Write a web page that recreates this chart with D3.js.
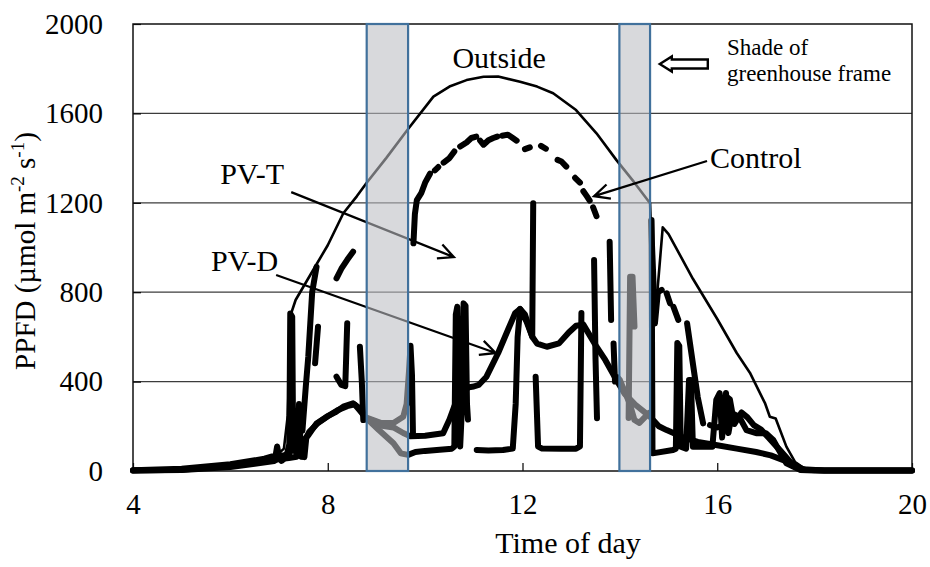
<!DOCTYPE html>
<html>
<head>
<meta charset="utf-8">
<title>PPFD – time of day</title>
<script src="https://cdn.jsdelivr.net/npm/d3@7"></script>
<style>
  html, body { margin: 0; padding: 0; background: #fff; }
  svg { display: block; }
  svg text { font-family: "Liberation Serif", "Times New Roman", Times, "DejaVu Serif", serif; }
</style>
</head>
<body>
<svg id="chart" width="930" height="567"></svg>
<script>
"use strict";

// ── Data ─────────────────────────────────────────────────────────────────────
// [time of day (h), PPFD (µmol m-2 s-1)], null = gap in the record
const xTicks = [4, 8, 12, 16, 20];
const yTicks = [0, 400, 800, 1200, 1600, 2000];

// periods shaded by the greenhouse frame
const frameShade = [[8.8, 9.65], [13.99, 14.62]];

const outside = [
  [4, 3], [5, 8], [5.8, 20], [6.5, 40], [6.9, 60], [7.1, 100], [7.18, 250], [7.24, 700],
  [7.34, 765], [7.74, 914], [8.0, 1010], [8.32, 1153], [8.6, 1230], [8.8, 1290], [9.2, 1400],
  [9.65, 1530], [10.17, 1675], [10.5, 1720], [10.85, 1749], [11.2, 1764], [11.5, 1765],
  [11.95, 1742], [12.3, 1720], [12.63, 1690], [13.1, 1615], [13.52, 1511], [13.93, 1391],
  [14.3, 1290], [14.62, 1198], [14.68, 850], [14.72, 680], [14.8, 880], [14.88, 1090],
  [15.0, 1060], [15.5, 860], [16.0, 680], [16.4, 528], [16.67, 440], [16.98, 304], [17.08, 243],
  [17.2, 235], [17.42, 109], [17.6, 40], [17.8, 10], [18.2, 3], [20, 2]
];

const control = [
  [4, 3], [5, 10], [6, 30], [6.7, 55], [6.93, 70], [6.96, 110], [7.0, 65], [7.2, 75], [7.3, 110],
  [7.4, 160], [7.44, 290], [7.48, 180], [7.55, 380], [7.6, 511], [7.68, 800], [7.77, 914], null,
  [7.74, 482], [7.8, 645], null,
  [8.18, 422], [8.28, 385], [8.36, 380], [8.38, 520], [8.4, 661], null,
  [8.18, 862], [8.28, 905], [8.4, 945], [8.52, 981], null,
  [8.66, 556], [8.7, 400], [8.73, 228], [8.85, 235], [9.1, 215], [9.35, 215], [9.55, 243],
  [9.62, 300], [9.67, 450], [9.7, 560], [9.73, 430], [9.75, 170], null,
  [9.76, 1019], [9.79, 1150], [9.83, 1212], [9.92, 1243], [10.0, 1290], [10.1, 1330], null,
  [10.2, 1345], [10.27, 1360], null,
  [10.38, 1380], [10.5, 1400], [10.6, 1430], null,
  [10.72, 1452], [10.85, 1470], [10.95, 1490], [11.05, 1496], null,
  [11.13, 1478], [11.2, 1460], [11.3, 1480], [11.4, 1490], [11.48, 1496], null,
  [11.58, 1500], [11.7, 1505], [11.8, 1490], [11.88, 1478], null,
  [12.05, 1440], [12.15, 1448], null,
  [12.38, 1455], [12.48, 1442], null,
  [12.72, 1392], [12.8, 1385], [12.9, 1362], null,
  [13.08, 1312], [13.18, 1290], null,
  [13.25, 1252], [13.32, 1230], [13.38, 1210], null,
  [13.45, 1180], [13.52, 1140], null,
  [13.47, 944], [13.5, 500], [13.53, 236], null,
  [13.79, 1026], [13.82, 676], null,
  [13.87, 571], [13.9, 400], [13.95, 420], [14.0, 407], [14.2, 303], [14.3, 228], [14.4, 215],
  [14.6, 260], null,
  [14.64, 1120], [14.68, 900], [14.72, 660], [14.78, 800], [14.86, 810], null,
  [14.96, 795], [15.03, 750], null,
  [15.1, 735], [15.2, 676], null,
  [15.38, 661], [15.5, 480], [15.6, 330], [15.71, 213], null,
  [15.85, 205], [16.0, 195], [16.15, 205], [16.2, 330], [16.26, 320], [16.35, 210], [16.5, 262],
  [16.62, 240], [16.75, 205], [16.9, 185], [17.05, 150], [17.3, 90], [17.5, 40], [17.75, 8],
  [18.2, 2], [20, 2]
];

const pvT = [
  [4, 2], [5, 5], [6, 18], [6.5, 32], [6.9, 45], [7.0, 60], [7.05, 45], [7.15, 65], [7.21, 120],
  [7.23, 705], [7.27, 690], [7.29, 94], [7.38, 80], [7.41, 300], [7.45, 64], [7.52, 62],
  [7.56, 150], [7.62, 175], [7.8, 215], [8.0, 245], [8.2, 272], [8.4, 290], [8.55, 298],
  [8.66, 270], [8.76, 243], [9.05, 183], [9.35, 124], [9.5, 79], [9.65, 72], [9.8, 85],
  [10.0, 90], [10.3, 95], [10.55, 100], [10.6, 110], [10.63, 700], [10.66, 735], [10.69, 200],
  [10.72, 110], [10.76, 300], [10.79, 750], [10.83, 740], [10.86, 300], [10.88, 230], null,
  [11.06, 94], [11.3, 92], [11.6, 94], [11.8, 100], [11.86, 300], [11.9, 600], [11.95, 725],
  [12.08, 670], [12.2, 601], [12.22, 1198], null,
  [12.27, 422], [12.32, 109], [12.4, 101], [12.8, 100], [13.1, 100], [13.18, 110], [13.21, 707], null,
  [14.18, 237], [14.21, 869], [14.26, 869], [14.3, 646], null,
  [14.65, 1123], [14.67, 79], [15.09, 94], [15.15, 100], [15.18, 573], [15.22, 560], [15.25, 109],
  [15.36, 100], [15.42, 407], [15.46, 407], [15.5, 109], [15.9, 109], [15.98, 318], [16.05, 348],
  [16.1, 150], [16.18, 349], [16.23, 170], [16.3, 258], [16.45, 243], [16.6, 183], [16.8, 169],
  [17.0, 169], [17.15, 139], [17.42, 34], [17.7, 5], [18.0, 2], [20, 2]
];

const pvD = [
  [4, 2], [5, 6], [5.5, 14], [6, 25], [6.5, 38], [6.9, 50], [7.2, 58], [7.36, 64], [7.45, 100],
  [7.52, 140], [7.6, 160], [7.77, 213], [7.98, 243], [8.15, 262], [8.32, 288], [8.52, 303],
  [8.66, 280], [8.76, 243], [9.05, 205], [9.35, 195], [9.55, 170], [9.7, 155], [10.0, 158],
  [10.37, 169], [10.5, 230], [10.6, 290], [10.75, 350], [10.9, 375], [11.0, 378], [11.1, 385],
  [11.26, 422], [11.5, 528], [11.7, 631], [11.85, 707], [11.95, 725], [12.05, 700], [12.2, 601],
  [12.3, 570], [12.5, 556], [12.75, 571], [12.95, 620], [13.1, 650], [13.25, 655], [13.4, 600],
  [13.52, 556], [13.7, 497], [13.93, 407], [14.1, 345], [14.3, 300], [14.62, 243], [14.8, 200],
  [14.96, 183], [15.1, 170], [15.3, 150], [15.6, 130], [16.0, 115], [16.4, 100], [16.8, 85],
  [17.1, 70], [17.4, 45], [17.6, 20], [17.8, 6], [18.2, 2], [20, 2]
];

// ── Setup ────────────────────────────────────────────────────────────────────
const svg = d3.select("#chart");

const x = d3.scaleLinear().domain([4, 20]).range([133, 912]);
const y = d3.scaleLinear().domain([0, 2000]).range([471, 24]);

const line = d3.line()
  .defined(d => d !== null)
  .x(d => x(d[0]))
  .y(d => y(d[1]));

// ── Grid & axes ──────────────────────────────────────────────────────────────
svg.append("g").attr("class", "grid")
  .selectAll("line")
  .data(yTicks.filter(v => v > 0 && v < 2000))
  .join("line")
  .attr("x1", x(4)).attr("x2", x(20))
  .attr("y1", d => y(d)).attr("y2", d => y(d))
  .attr("stroke", "#3c3c3c")
  .attr("stroke-width", 1.3);

const yAxis = svg.append("g")
  .attr("transform", `translate(${x(4)},0)`)
  .call(d3.axisLeft(y).tickValues(yTicks).tickFormat(d3.format("d"))
    .tickSize(-8).tickPadding(30));

const xAxis = svg.append("g")
  .attr("transform", `translate(0,${y(0)})`)
  .call(d3.axisBottom(x).tickValues(xTicks).tickFormat(d3.format("d"))
    .tickSize(-8).tickPadding(22));

[yAxis, xAxis].forEach(a => {
  a.attr("font-family", null).attr("font-size", 29);
  a.select(".domain").remove();
  a.selectAll(".tick line").attr("stroke", "#000").attr("stroke-width", 1.2);
  a.selectAll(".tick text").attr("fill", "#000");
});

svg.append("rect")
  .attr("x", x(4)).attr("y", y(2000))
  .attr("width", x(20) - x(4)).attr("height", y(0) - y(2000))
  .attr("fill", "none")
  .attr("stroke", "#111")
  .attr("stroke-width", 1.5);

// ── Series ───────────────────────────────────────────────────────────────────
const lines = svg.append("g").attr("fill", "none")
  .attr("stroke", "#000")
  .attr("stroke-linecap", "round")
  .attr("stroke-linejoin", "round");

[pvD, pvT, control].forEach(s => {
  lines.append("path").attr("d", line(s)).attr("stroke-width", 6);
});
lines.append("path").attr("d", line(outside)).attr("stroke-width", 2.6);

// ── Arrows ───────────────────────────────────────────────────────────────────
function arrow(g, t1, v1, t2, v2) {
  const x1 = x(t1), y1 = y(v1), x2 = x(t2), y2 = y(v2);
  const ang = Math.atan2(y2 - y1, x2 - x1);
  const len = 17, spread = 0.45;
  const wing = s => [x2 - len * Math.cos(ang + s), y2 - len * Math.sin(ang + s)];
  const [ax, ay] = wing(spread), [bx, by] = wing(-spread);
  g.append("path")
    .attr("d", `M${x1},${y1}L${x2},${y2}M${ax},${ay}L${x2},${y2}L${bx},${by}`)
    .attr("fill", "none")
    .attr("stroke", "#000")
    .attr("stroke-width", 2.3)
    .attr("stroke-linejoin", "miter");
}

const under = svg.append("g");
arrow(under, 7.25, 1248, 10.59, 957);   // PV-T
arrow(under, 6.94, 877, 11.45, 528);    // PV-D

// ── Greenhouse frame shade ───────────────────────────────────────────────────
svg.append("g").selectAll("rect")
  .data(frameShade)
  .join("rect")
  .attr("x", d => x(d[0]))
  .attr("y", y(2000))
  .attr("width", d => x(d[1]) - x(d[0]))
  .attr("height", y(0) - y(2000))
  .attr("fill", "#bcbec2")
  .attr("fill-opacity", 0.58)
  .attr("stroke", "#41719c")
  .attr("stroke-width", 2.2);

arrow(svg.append("g"), 15.79, 1387, 13.47, 1230);   // Control

// hollow arrow pointing at the shade
const hx = x(14.82), hy = y(1821);
svg.append("path")
  .attr("d", `M${hx},${hy}L${hx + 12},${hy - 7.5}L${hx + 12},${hy - 4.5}L${hx + 48},${hy - 4.5}` +
             `L${hx + 48},${hy + 4.5}L${hx + 12},${hy + 4.5}L${hx + 12},${hy + 7.5}Z`)
  .attr("fill", "#fff")
  .attr("stroke", "#000")
  .attr("stroke-width", 2.4)
  .attr("stroke-linejoin", "miter");

// ── Labels ───────────────────────────────────────────────────────────────────
const txt = svg.append("g").attr("fill", "#000");

txt.append("text").attr("x", x(11.52)).attr("y", y(1803))
  .attr("text-anchor", "middle").attr("font-size", 30).text("Outside");
txt.append("text").attr("x", x(15.85)).attr("y", y(1356))
  .attr("font-size", 30).text("Control");
txt.append("text").attr("x", x(5.79)).attr("y", y(1284))
  .attr("font-size", 30).text("PV-T");
txt.append("text").attr("x", x(5.6)).attr("y", y(895))
  .attr("font-size", 30).text("PV-D");
txt.append("text").attr("x", x(16.2)).attr("y", y(1861))
  .attr("font-size", 23).text("Shade of");
txt.append("text").attr("x", x(16.2)).attr("y", y(1745))
  .attr("font-size", 23).text("greenhouse frame");

txt.append("text")
  .attr("x", 568).attr("y", 553)
  .attr("text-anchor", "middle")
  .attr("font-size", 30)
  .text("Time of day");

const yLab = txt.append("text")
  .attr("transform", "translate(35,251) rotate(-90)")
  .attr("text-anchor", "middle")
  .attr("font-size", 29);
yLab.append("tspan").text("PPFD (\u00b5mol m");
yLab.append("tspan").attr("dy", -11).attr("font-size", 19).text("-2");
yLab.append("tspan").attr("dy", 11).text(" s");
yLab.append("tspan").attr("dy", -11).attr("font-size", 19).text("-1");
yLab.append("tspan").attr("dy", 11).text(")");
</script>
</body>
</html>
